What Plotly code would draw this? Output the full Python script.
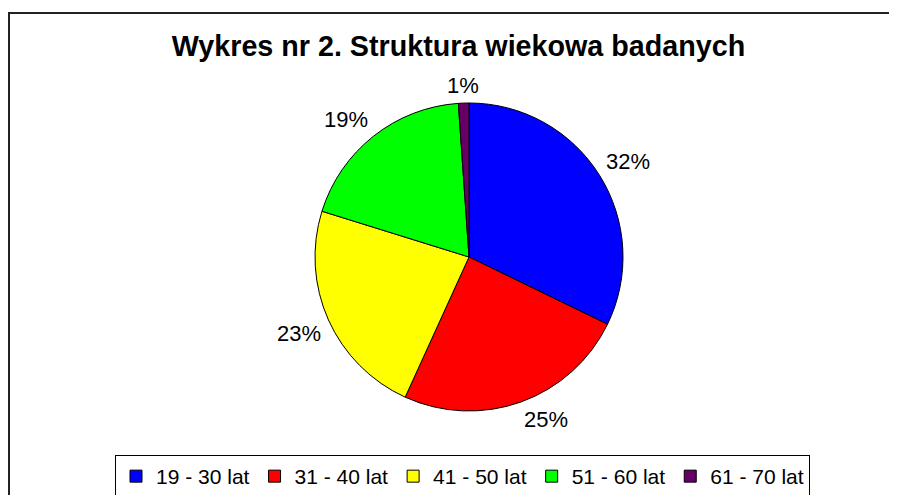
import math
import plotly.graph_objects as go

categories = ["19 - 30 lat", "31 - 40 lat", "41 - 50 lat", "51 - 60 lat", "61 - 70 lat"]
values = [32.2, 24.6, 23.0, 19.1, 1.1]
colors = ["#0000FF", "#FF0000", "#FFFF00", "#00FF00", "#660066"]
title_text = "Wykres nr 2. Struktura wiekowa badanych"

W, H = 897, 495
FONT = "Arial, Liberation Sans, sans-serif"
LBL_SIZE = 22

# geometry in figure pixels (page is offset by the 8px body margin)
CX, CY, R = 461, 249, 154
GAP = 8

fig = go.Figure()
fig.add_trace(go.Pie(
    labels=categories,
    values=values,
    sort=False,
    direction="clockwise",
    rotation=0,
    marker=dict(colors=colors, line=dict(color="#000000", width=1)),
    textinfo="none",
    domain=dict(x=[(CX - R) / W, (CX + R) / W], y=[1 - (CY + R) / H, 1 - (CY - R) / H]),
    hoverinfo="label+percent",
    showlegend=True,
))


def sgn(a, eps=0.1):
    return 0 if abs(a) < eps else (1 if a > 0 else -1)


# percentage labels placed outside each slice, at its mid-angle
total = sum(values)
annotations = []
cum = 0.0
for v in values:
    mid = (cum + v / 2) / total * 2 * math.pi
    cum += v
    txt = f"{round(v / total * 100)}%"
    s, c = math.sin(mid), math.cos(mid)
    half_w = LBL_SIZE * (0.556 * (len(txt) - 1) + 0.889) / 2
    half_h = 10
    dx = (R + GAP) * s + sgn(s) * half_w
    dy = -(R + GAP) * c - sgn(c) * half_h
    annotations.append(dict(
        x=(CX + dx) / W, y=1 - (CY + dy) / H, xref="paper", yref="paper",
        xanchor="center", yanchor="middle", showarrow=False, text=txt,
        font=dict(family=FONT, size=LBL_SIZE, color="#000000"),
    ))

fig.update_layout(
    width=W, height=H,
    margin=dict(l=0, r=0, t=0, b=0),
    paper_bgcolor="#FFFFFF",
    plot_bgcolor="#FFFFFF",
    font=dict(family=FONT, color="#000000"),
    title=dict(
        text="<b>" + title_text + "</b>",
        x=450.5 / W, xanchor="center",
        y=1 - 38 / H, yanchor="middle",
        font=dict(family=FONT, size=28.7, color="#000000"),
    ),
    showlegend=True,
    legend=dict(
        orientation="h",
        x=107 / W, xanchor="left",
        y=1 - 447 / H, yanchor="top",
        bordercolor="#000000", borderwidth=1,
        font=dict(family=FONT, size=21, color="#000000"),
        itemwidth=30,
        traceorder="normal",
    ),
    annotations=annotations,
    shapes=[
        dict(type="rect", xref="paper", yref="paper",
             x0=1 / W, x1=1.02, y0=-0.02, y1=1 - 5 / H,
             line=dict(color="#222222", width=2), fillcolor="rgba(0,0,0,0)"),
    ],
)

fig.write_html("out.html")
